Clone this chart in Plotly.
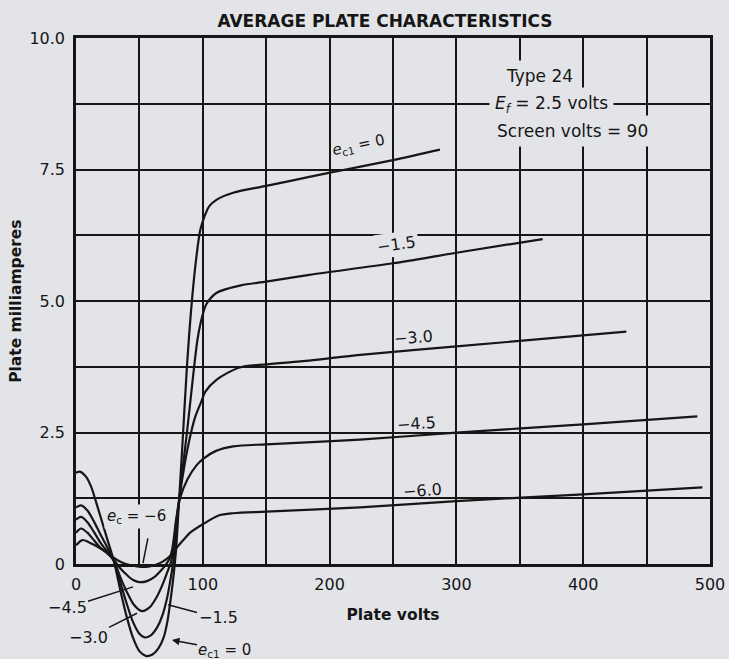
import plotly.graph_objects as go

# ---------------- data ----------------
volts_ec0 = [0, 3, 8, 12, 15, 20, 25, 30, 35, 40, 45, 50, 55, 60, 65, 69, 72, 75, 77, 79, 81, 84,
             87.5, 91.5, 95, 98, 101.5, 105, 111, 124, 150, 184, 200, 250, 287]
ma_ec0 = [1.74, 1.76, 1.66, 1.47, 1.25, 0.85, 0.45, 0.05, -0.5, -1.0, -1.4, -1.65, -1.74, -1.72, -1.6,
          -1.4, -1.1, -0.6, -0.2, 0.3, 1.1, 2.3, 3.76, 5.03, 5.85, 6.35, 6.62, 6.8, 6.93, 7.06, 7.19,
          7.36, 7.44, 7.68, 7.88]

volts_ec15 = [0, 4, 9, 14, 19, 24, 30, 35, 40, 45, 50, 54, 59, 64, 68, 72, 75, 77, 80, 84, 87.5, 92,
              96, 100, 103, 111, 130, 150, 184, 250, 300, 368]
ma_ec15 = [1.08, 1.12, 1.02, 0.82, 0.58, 0.35, 0.05, -0.35, -0.75, -1.1, -1.32, -1.39, -1.35, -1.2,
           -0.98, -0.62, -0.22, 0.1, 0.9, 1.8, 2.5, 3.5, 4.3, 4.75, 4.95, 5.16, 5.3, 5.37, 5.5, 5.72,
           5.92, 6.18]

volts_ec30 = [0, 4, 9, 14, 19, 24, 30, 35, 40, 46, 52, 58, 63, 68, 72, 75, 77, 79, 83, 88, 94, 99,
              102, 111, 129, 150, 184, 224, 300, 434]
ma_ec30 = [0.85, 0.9, 0.8, 0.62, 0.42, 0.26, 0.06, -0.25, -0.52, -0.78, -0.89, -0.82, -0.65, -0.4,
           -0.15, 0.05, 0.3, 0.8, 1.5, 2.2, 2.8, 3.1, 3.28, 3.51, 3.74, 3.8, 3.87, 3.98, 4.14, 4.42]

volts_ec45 = [0, 4, 9, 14, 19, 24, 30, 35, 40, 45, 50, 56, 62, 67, 71, 74, 76, 79, 82, 88, 95, 100,
              110, 124, 150, 224, 300, 400, 490]
ma_ec45 = [0.6, 0.68, 0.6, 0.46, 0.32, 0.22, 0.08, -0.08, -0.2, -0.3, -0.34, -0.32, -0.24, -0.12, 0.0,
           0.12, 0.3, 0.85, 1.25, 1.62, 1.88, 2.0, 2.15, 2.24, 2.28, 2.37, 2.5, 2.66, 2.81]

volts_ec60 = [0, 5, 10, 15, 20, 25, 30, 35, 40, 46, 52, 58, 64, 69, 73, 76, 80, 85, 90, 100, 113,
              124, 150, 224, 300, 400, 494]
ma_ec60 = [0.36, 0.46, 0.42, 0.36, 0.29, 0.21, 0.12, 0.05, 0.0, -0.03, -0.05, -0.04, 0.0, 0.06, 0.13,
           0.2, 0.33, 0.47, 0.6, 0.76, 0.93, 0.97, 1.0, 1.08, 1.2, 1.33, 1.46]

x_tick_vals = [0, 100, 200, 300, 400, 500]
x_tick_text = ["0", "100", "200", "300", "400", "500"]
x_minor_vals = [50, 150, 250, 350, 450]
y_tick_vals = [0, 2.5, 5.0, 7.5, 10.0]
y_tick_text = ["0", "2.5", "5.0", "7.5", "10.0"]
y_minor_vals = [1.25, 3.75, 6.25, 8.75]

# ---------------- style ----------------
BG = "#e2e4e8"
INK = "#161616"
FONT = "DejaVu Sans"

y_lo, y_hi = -1.8, 10.0
grid_bottom = (0 - y_lo) / (y_hi - y_lo)

fig = go.Figure()

# empty trace so that the grid subplot (0..10 mA) is created
fig.add_trace(go.Scatter(x=[None], y=[None], xaxis="x", yaxis="y", showlegend=False, hoverinfo="skip"))

for v, m in [(volts_ec0, ma_ec0), (volts_ec15, ma_ec15), (volts_ec30, ma_ec30),
             (volts_ec45, ma_ec45), (volts_ec60, ma_ec60)]:
    fig.add_trace(go.Scatter(
        x=v, y=m, mode="lines", xaxis="x2", yaxis="y2",
        line=dict(color=INK, width=2.2, shape="spline", smoothing=0.8),
        showlegend=False, hoverinfo="skip"))

tickfont = dict(family=FONT, size=16, color=INK)

fig.update_layout(
    width=729, height=659, autosize=False,
    margin=dict(l=76, r=19, t=38, b=0, pad=0, autoexpand=False),
    paper_bgcolor=BG, plot_bgcolor="rgba(0,0,0,0)",
    title=dict(text="AVERAGE PLATE CHARACTERISTICS", x=385 / 729, xanchor="center",
               y=1 - 21 / 659, yanchor="middle",
               font=dict(family=FONT, size=17, color=INK, weight="bold")),
    xaxis=dict(domain=[0, 1], range=[0, 500], anchor="y",
               tickvals=x_tick_vals, ticktext=x_tick_text, ticks="", ticklabelstandoff=4,
               showgrid=True, gridcolor=INK, gridwidth=1.8,
               minor=dict(tickvals=x_minor_vals, showgrid=True, gridcolor=INK, gridwidth=1.8, ticks=""),
               showline=True, mirror=True, linecolor=INK, linewidth=2.6, zeroline=False,
               tickfont=tickfont,
               title=dict(text="<b>Plate volts</b>", standoff=16,
                          font=dict(family=FONT, size=15.5, color=INK))),
    yaxis=dict(domain=[grid_bottom, 1], range=[0, 10], anchor="x",
               tickvals=y_tick_vals, ticktext=y_tick_text, ticks="", ticklabelstandoff=5,
               showgrid=True, gridcolor=INK, gridwidth=1.8,
               minor=dict(tickvals=y_minor_vals, showgrid=True, gridcolor=INK, gridwidth=1.8, ticks=""),
               showline=True, mirror=True, linecolor=INK, linewidth=2.6, zeroline=False,
               tickfont=tickfont,
               title=dict(text="<b>Plate milliamperes</b>", standoff=4,
                          font=dict(family=FONT, size=15.5, color=INK))),
    xaxis2=dict(domain=[0, 1], range=[0, 500], anchor="y2", visible=False, fixedrange=True),
    yaxis2=dict(domain=[0, 1], range=[y_lo, y_hi], anchor="x2", visible=False, fixedrange=True),
)

anns = []

def label(text, x, y, angle=0, bg=None, xanchor="center", size=16, pad=2):
    anns.append(dict(text=text, x=x, y=y, xref="x2", yref="y2", showarrow=False,
                     textangle=angle, xanchor=xanchor, yanchor="middle",
                     font=dict(family=FONT, size=size, color=INK),
                     bgcolor=bg, borderpad=pad))

def pointer(text, tx, ty, hx, hy, head=0, size=16):
    anns.append(dict(text=text, x=hx, y=hy, ax=tx, ay=ty, xref="x2", yref="y2",
                     axref="x2", ayref="y2", showarrow=True, arrowhead=head, arrowsize=1,
                     arrowwidth=1.5, arrowcolor=INK,
                     font=dict(family=FONT, size=size, color=INK), borderpad=1))

# curve labels on the right
label("<i>e</i><sub>c1</sub> = 0", 222.4, 7.95, angle=-12, size=15)
label("\u22121.5", 252.4, 6.07, angle=-8, bg=BG)
label("\u22123.0", 265.8, 4.30, angle=-4)
label("\u22124.5", 268.9, 2.68, angle=-4)
label("\u22126.0", 272.9, 1.40, angle=-4)

# information box
label("Type 24", 334, 9.28, xanchor="left", bg=BG, size=17, pad=5)
label("<i>E<sub>f</sub></i> = 2.5 volts", 326.1, 8.73, xanchor="left", bg=BG, size=17, pad=5)
label("Screen volts = 90", 326.9, 8.23, xanchor="left", bg=BG, size=17, pad=5)

# low-voltage region labels
label("<i>e</i><sub>c</sub> = \u22126", 48.1, 0.90, bg=BG, size=15)
pointer(" ", 58.4, 0.70, 52.8, 0.02)
pointer("\u22124.5", -7.1, -0.83, 45.0, -0.43)
pointer("\u22123.0", 9.5, -1.40, 48.1, -0.93)
pointer("\u22121.5", 112.0, -1.02, 72.6, -0.77)
pointer("<i>e</i><sub>c1</sub> = 0", 117.5, -1.63, 75.7, -1.44, head=2, size=15)

fig.update_layout(annotations=anns)

fig.write_html("out.html", config={"displayModeBar": False},
               post_script="document.body.style.margin='0';")
